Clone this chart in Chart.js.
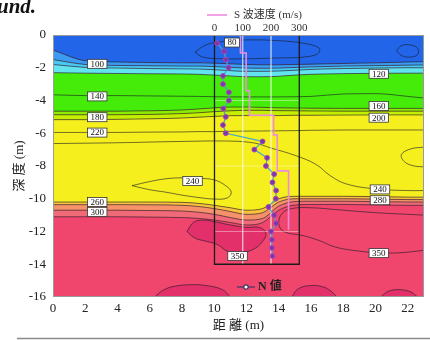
<!DOCTYPE html>
<html lang="ja">
<head>
<meta charset="UTF-8">
<title>S波速度断面</title>
<style>
  html, body { margin: 0; padding: 0; background: #fff; }
  .wrap { position: relative; width: 430px; height: 340px; }
</style>
</head>
<body>
<div class="wrap"><canvas id="chart"></canvas></div>
<script src="https://cdn.jsdelivr.net/npm/chart.js"></script>
<script>
// distance (m) where the band boundaries were read
const distance = [0, 2, 4, 6, 8, 9, 10, 11, 12, 13, 14, 15, 16, 18, 20, 22, 23];

// depth (m) of each colour boundary, top to bottom
const bnd100 = [-0.92, -1.57, -1.65, -1.68, -1.7, -1.7, -1.72, -1.76, -1.8, -1.82, -1.82, -1.8, -1.78, -1.74, -1.7, -1.65, -1.63];
const bnd105 = [-1.5, -1.8, -1.86, -1.88, -1.9, -1.9, -1.93, -1.98, -2.02, -2.03, -2.02, -1.98, -1.95, -1.9, -1.87, -1.84, -1.83];
const bnd110 = [-1.8, -1.98, -2.02, -2.05, -2.07, -2.08, -2.12, -2.18, -2.22, -2.22, -2.2, -2.15, -2.1, -2.05, -2.02, -2.0, -2.0];
const bnd120 = [-2.3, -2.33, -2.35, -2.37, -2.38, -2.4, -2.45, -2.5, -2.55, -2.55, -2.52, -2.45, -2.4, -2.36, -2.34, -2.33, -2.33];
const bnd160 = [-4.65, -4.65, -4.65, -4.63, -4.58, -4.52, -4.45, -4.4, -4.4, -4.42, -4.45, -4.46, -4.47, -4.48, -4.48, -4.48, -4.48];
const bnd180 = [-4.87, -4.87, -4.87, -4.85, -4.8, -4.75, -4.68, -4.63, -4.6, -4.6, -4.62, -4.63, -4.64, -4.65, -4.65, -4.65, -4.65];
const bnd200 = [-5.17, -5.17, -5.15, -5.12, -5.07, -5.02, -4.97, -4.93, -4.92, -4.92, -4.92, -4.9, -4.9, -4.89, -4.88, -4.88, -4.88];
const bnd260 = [-10.2, -10.2, -10.2, -10.2, -10.22, -10.28, -10.4, -10.55, -10.7, -10.6, -10.0, -9.85, -9.85, -9.85, -9.87, -9.9, -9.9];
const bnd280 = [-10.36, -10.36, -10.36, -10.37, -10.4, -10.47, -10.6, -10.78, -10.95, -10.85, -10.2, -10.0, -10.0, -10.0, -10.02, -10.05, -10.05];
const bnd300 = [-10.7, -10.7, -10.7, -10.72, -10.75, -10.82, -10.95, -11.15, -11.3, -11.2, -10.45, -10.17, -10.15, -10.15, -10.17, -10.2, -10.2];
const bnd320 = [-11.1, -11.1, -11.1, -11.12, -11.15, -11.2, -11.3, -11.45, -11.6, -11.45, -10.7, -10.38, -10.35, -10.35, -10.37, -10.4, -10.4];

// contour lines with no colour change
const line140 = [-3.65, -3.7, -3.7, -3.72, -3.74, -3.75, -3.77, -3.78, -3.78, -3.78, -3.78, -3.77, -3.75, -3.6, -3.58, -3.75, -3.85];
const line220 = [-5.95, -5.95, -5.95, -5.93, -5.92, -5.9, -5.9, -5.88, -5.87, -5.86, -5.85, -5.84, -5.82, -5.8, -5.8, -5.8, -5.8];
const line240 = [[0, -6.63], [4, -6.58], [8, -6.5], [11, -6.48], [12.5, -6.6], [13.5, -6.9], [15, -7.35], [16.3, -7.9], [17.2, -8.6], [18.2, -9.1], [20, -9.4], [22, -9.5], [23, -9.5]];
const loop240 = [[4.9, -9.2], [6, -8.95], [7, -8.78], [8, -8.72], [9, -8.75], [10, -8.85], [10.7, -9.2], [11.05, -9.6], [10.8, -9.95], [10, -10.02], [9, -9.92], [8, -9.78], [7, -9.6], [6, -9.45], [4.9, -9.2]];
const arc240 = [[23, -6.85], [22.2, -6.95], [21.6, -7.3], [21.8, -7.75], [22.4, -8.0], [23, -8.05]];
const loop80 = [[8.8, -1.05], [9.5, -0.6], [10.5, -0.4], [12, -0.3], [14, -0.35], [15.5, -0.5], [16.5, -0.8], [16.4, -1.15], [15.5, -1.35], [14, -1.4], [12, -1.45], [10.5, -1.45], [9.3, -1.35], [8.8, -1.05]];
const loopRight = [[21.3, -0.95], [21.6, -0.65], [22.1, -0.6], [22.6, -0.8], [22.6, -1.2], [22.1, -1.35], [21.6, -1.25], [21.3, -0.95]];
const line350 = [[23, -11.0], [20, -10.85], [18, -10.7], [16, -10.55], [14.8, -10.6], [14.2, -10.9], [14.0, -11.5], [14.3, -12.0], [15.5, -12.25], [16.5, -12.55], [17.5, -12.95], [19, -13.2], [20.2, -13.3], [21.5, -13.3], [23, -13.15]];

// closed zones above 350 m/s
const zoneA = [[8.3, -12.0], [8.7, -11.45], [9.3, -11.3], [10, -11.4], [11, -11.6], [12, -11.75], [12.8, -11.75], [13.2, -12.1], [13.0, -12.6], [12.4, -13.1], [11.5, -13.3], [10.8, -13.2], [10.2, -12.8], [9.5, -12.6], [8.8, -12.4], [8.3, -12.0]];
const zoneB = [[6.3, -16], [6.8, -15.6], [7.5, -15.35], [8.5, -15.25], [9.5, -15.3], [10.5, -15.55], [11, -16]];
const zoneC = [[14.8, -16], [15.2, -15.5], [16, -15.3], [16.8, -15.4], [17.3, -15.7], [17.6, -16]];
const zoneD = [[20.3, -16], [20.8, -15.65], [21.5, -15.55], [22.2, -15.7], [22.6, -16]];

// contour labels
const labelText = ['80', '100', '120', '140', '160', '180', '200', '220', '240', '260', '300', '240', '280', '350', '350'];
const labelDist = [11.1, 2.74, 20.2, 2.74, 20.2, 2.74, 20.2, 2.74, 8.65, 2.74, 2.74, 20.27, 20.27, 11.44, 20.2];
const labelDepth = [-0.46, -1.76, -2.37, -3.75, -4.33, -5.02, -5.05, -5.96, -8.92, -10.2, -10.8, -9.43, -10.09, -13.5, -13.32];

// borehole: N value every 0.5 m
const nDepth = [-0.5, -1, -1.5, -2, -2.5, -3, -3.5, -4, -4.5, -5, -5.5, -6, -6.5, -7, -7.5, -8, -8.5, -9, -9.5, -10, -10.5, -11, -11.5, -12, -12.5, -13, -13.5];
const nValue = [0.9, 3.4, 4.0, 5.0, 3.0, 3.0, 5.1, 5.1, 3.1, 4.0, 3.0, 4.0, 17.0, 14.1, 18.6, 18.2, 21.1, 20.5, 21.8, 21.7, 19.1, 21.1, 21.8, 20.0, 20.3, 20.3, 20.5];

// borehole: S-wave velocity, stepped by layer
const vsDepth = [0, -1.1, -3.4, -4.9, -6.1, -8.3, -11.9];
const vsValue = [92, 112, 124, 209, 222, 262, 262];

// inset axes
const nTicks = [0, 10, 20, 30];
const vsTicks = [0, 100, 200, 300];
const insetBottom = -14;
const insetGridN = [10, 20];
const insetGridDepth = [-4, -8, -12];

const serif = '"Liberation Serif", "DejaVu Serif", "Noto Sans CJK JP", serif';
const bandColors = ['#2365e8', '#3c9bf2', '#47c9f4', '#62e4ee', '#45ec0a', '#8eec00', '#c6ee00', '#f6ef1e', '#f8c23e', '#f6926a', '#f16a78'];
const bottomColor = '#f0466d';
const contourColor = 'rgba(25, 25, 35, 0.6)';
const gridColor = 'rgba(255, 255, 255, 0.4)';

const pts = (xs, ys) => xs.map((v, i) => ({ x: v, y: ys[i] }));
const pairs = (arr) => arr.map(p => ({ x: p[0], y: p[1] }));

const datasets = [];
[bnd100, bnd105, bnd110, bnd120, bnd160, bnd180, bnd200, bnd260, bnd280, bnd300, bnd320].forEach((b, i) => {
  datasets.push({
    data: pts(distance, b), xAxisID: 'x', yAxisID: 'y',
    fill: i === 0 ? 'end' : '-1', backgroundColor: bandColors[i],
    borderColor: contourColor, borderWidth: 1, pointRadius: 0,
    cubicInterpolationMode: 'monotone', order: 10
  });
});
[zoneA, zoneB, zoneC, zoneD].forEach(z => {
  datasets.push({
    data: pairs(z), xAxisID: 'x', yAxisID: 'y', fill: 'shape',
    backgroundColor: '#e3306a', borderColor: contourColor, borderWidth: 1,
    pointRadius: 0, tension: 0.4, order: 6
  });
});
[pts(distance, line140), pts(distance, line220)].forEach(d => {
  datasets.push({
    data: d, xAxisID: 'x', yAxisID: 'y', fill: false, borderColor: contourColor,
    borderWidth: 1, pointRadius: 0, cubicInterpolationMode: 'monotone', order: 5
  });
});
[line240, loop240, arc240, loop80, loopRight, line350].forEach(c => {
  datasets.push({
    data: pairs(c), xAxisID: 'x', yAxisID: 'y', fill: false, borderColor: contourColor,
    borderWidth: 1, pointRadius: 0, tension: 0.4, order: 5
  });
});
// inset grid
insetGridN.forEach(n => {
  datasets.push({
    data: [{ x: n, y: 0 }, { x: n, y: insetBottom }], xAxisID: 'xN', yAxisID: 'y',
    borderColor: gridColor, borderWidth: 1, pointRadius: 0, fill: false, order: 3
  });
});
insetGridDepth.forEach(d => {
  datasets.push({
    data: [{ x: nTicks[0], y: d }, { x: nTicks[3], y: d }], xAxisID: 'xN', yAxisID: 'y',
    borderColor: gridColor, borderWidth: 1, pointRadius: 0, fill: false, order: 3
  });
});
// inset frame
datasets.push({
  data: [{ x: nTicks[0], y: 0 }, { x: nTicks[0], y: insetBottom }, { x: nTicks[3], y: insetBottom }, { x: nTicks[3], y: 0 }],
  xAxisID: 'xN', yAxisID: 'y', borderColor: '#1a1a1a', borderWidth: 1.3, pointRadius: 0, fill: false, order: 2
});
// S-wave velocity
datasets.push({
  label: 'S 波速度 (m/s)', data: pts(vsValue, vsDepth), xAxisID: 'xS', yAxisID: 'y',
  stepped: 'after', borderColor: '#f08ae0', borderWidth: 1.6, pointRadius: 0, fill: false, order: 1
});
// N value
datasets.push({
  label: 'N 値', data: pts(nValue, nDepth), xAxisID: 'xN', yAxisID: 'y',
  borderColor: '#45a8c4', borderWidth: 1.2, pointRadius: 2.4,
  pointBackgroundColor: '#763aa8', pointBorderColor: '#b040b8', pointBorderWidth: 1,
  fill: false, tension: 0, order: 0
});

const extras = {
  id: 'extras',
  beforeDatasetsDraw(chart) {
    const { ctx, chartArea: a } = chart;
    ctx.save();
    ctx.fillStyle = bottomColor;
    ctx.fillRect(a.left, a.top, a.right - a.left, a.bottom - a.top);
    ctx.restore();
  },
  afterDatasetsDraw(chart) {
    const { ctx, chartArea: a, scales } = chart;
    ctx.save();
    ctx.strokeStyle = '#9a9a9a';
    ctx.lineWidth = 1;
    ctx.strokeRect(a.left + 0.5, a.top + 0.5, a.right - a.left - 1, a.bottom - a.top - 1);
    // contour labels
    ctx.font = '9px ' + serif;
    ctx.textAlign = 'center';
    ctx.textBaseline = 'middle';
    labelText.forEach((t, i) => {
      const px = scales.x.getPixelForValue(labelDist[i]);
      const py = scales.y.getPixelForValue(labelDepth[i]);
      const w = ctx.measureText(t).width + 6, h = 9;
      ctx.fillStyle = '#fff';
      ctx.fillRect(px - w / 2, py - h / 2, w, h);
      ctx.strokeStyle = '#333';
      ctx.lineWidth = 0.8;
      ctx.strokeRect(px - w / 2, py - h / 2, w, h);
      ctx.fillStyle = '#111';
      ctx.fillText(t, px, py + 0.5);
    });
    ctx.restore();
  },
  afterDraw(chart) {
    const { ctx } = chart;
    ctx.save();
    // legend for S-wave velocity
    ctx.strokeStyle = '#f08ae0';
    ctx.lineWidth = 1.6;
    ctx.beginPath(); ctx.moveTo(207, 15); ctx.lineTo(227, 15); ctx.stroke();
    ctx.fillStyle = '#333';
    ctx.font = '11px ' + serif;
    ctx.textBaseline = 'middle';
    ctx.textAlign = 'left';
    ctx.fillText('S 波速度 (m/s)', 234, 15);
    // legend for N value
    ctx.strokeStyle = '#3a3a66';
    ctx.lineWidth = 1.2;
    ctx.beginPath(); ctx.moveTo(237, 287); ctx.lineTo(255, 287); ctx.stroke();
    ctx.beginPath(); ctx.arc(246, 287, 2.2, 0, Math.PI * 2);
    ctx.fillStyle = '#fff'; ctx.fill(); ctx.stroke();
    ctx.fillStyle = '#222';
    ctx.font = 'bold 12px ' + serif;
    ctx.fillText('N 値', 258, 287);
    // clipped caption from the page above
    ctx.font = 'italic bold 21px ' + serif;
    ctx.textBaseline = 'alphabetic';
    ctx.fillStyle = '#111';
    ctx.fillText('und.', -3, 13);
    // page rule under the figure
    ctx.strokeStyle = '#8a8a8a';
    ctx.lineWidth = 1.5;
    ctx.beginPath(); ctx.moveTo(17, 338.5); ctx.lineTo(430, 338.5); ctx.stroke();
    ctx.restore();
  }
};

const tickFont = { family: serif, size: 13 };
new Chart(document.getElementById('chart'), {
  type: 'line',
  data: { datasets },
  options: {
    responsive: true,
    maintainAspectRatio: false,
    animation: false,
    layout: { padding: { left: 0, right: 6, top: 0, bottom: 0 } },
    plugins: { legend: { display: false }, tooltip: { enabled: false } },
    scales: {
      x: {
        type: 'linear', position: 'bottom', min: 0, max: 23,
        ticks: { stepSize: 2, includeBounds: false, padding: 4, color: '#222', font: tickFont, maxRotation: 0, autoSkip: false },
        grid: { display: false, drawTicks: false },
        border: { display: false },
        title: { display: true, text: '距 離 (m)', color: '#222', font: { family: serif, size: 13 }, padding: { top: 0, bottom: 7 } },
        afterFit(s) { s.height = 43; }
      },
      y: {
        type: 'linear', position: 'left', min: -16, max: 0,
        ticks: { stepSize: 2, padding: 7, color: '#222', font: tickFont },
        grid: { display: false, drawTicks: false },
        border: { display: false },
        title: { display: true, text: '深 度 (m)', color: '#222', font: { family: serif, size: 13 }, padding: { top: 12, bottom: 0 } },
        afterFit(s) { s.width = 53; }
      },
      xS: {
        type: 'linear', axis: 'x', position: 'top', min: -571.3, max: 741.2,
        afterBuildTicks(s) { s.ticks = vsTicks.map(v => ({ value: v })); },
        ticks: { padding: 0, color: '#333', font: { family: serif, size: 11 }, maxRotation: 0, autoSkip: false },
        grid: { display: false, drawTicks: false },
        border: { display: false },
        afterFit(s) { s.height = 35; }
      },
      xN: {
        type: 'linear', axis: 'x', position: { y: insetBottom }, min: -57.13, max: 74.12,
        afterBuildTicks(s) { s.ticks = nTicks.map(v => ({ value: v })); },
        ticks: { padding: 2, color: '#333', font: { family: serif, size: 11 }, maxRotation: 0, autoSkip: false },
        grid: { display: false, drawTicks: false },
        border: { display: false }
      }
    }
  },
  plugins: [extras]
});
</script>
</body>
</html>
